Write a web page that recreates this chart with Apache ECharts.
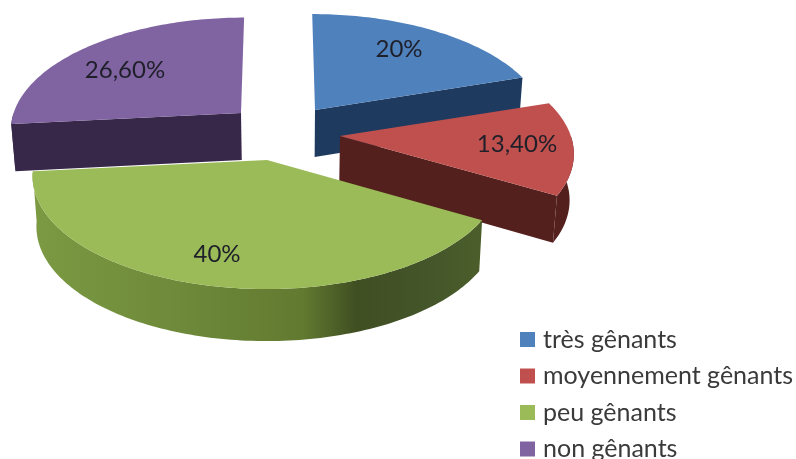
<!DOCTYPE html>
<html><head><meta charset="utf-8">
<style>html,body{margin:0;padding:0;background:#fff}#c{width:796px;height:459px}</style>
<script src="https://cdn.jsdelivr.net/npm/echarts@6/dist/echarts.min.js"></script>
</head><body><div id="c"></div>
<script>
// Data
const categories = ['très gênants', 'moyennement gênants', 'peu gênants', 'non gênants'];
const values = [20, 13.4, 40, 26.6];
const valueLabels = ['20%', '13,40%', '40%', '26,60%'];

// Styles & layout
const topColors = ['#4f81bd', '#c0504d', '#9bbb59', '#8064a2'];
const wallColors = ['#1f3a5f', '#54201e', null, '#37284a'];
const apexes = [[315, 110], [340, 136], [267, 160], [241, 113]];
const depths = [47, 46, 50, 47];
const radiusScale = [0.985, 0.995, 1, 0.98];
const labelPos = [[399, 49], [517, 144], [217, 254], [125, 70]];
const RX = 232, RY = 111, K = 0.14, SHRINK = 0.985, MIDX = 290, VANISH_X = 280, VANISH = 0.08;

const chart = echarts.init(document.getElementById('c'), null, {renderer: 'canvas'});
const total = values.reduce((a, b) => a + b, 0);
const angles = []; let acc = 0;
values.forEach(v => { angles.push([acc / total * 2 * Math.PI, (acc + v) / total * 2 * Math.PI]); acc += v; });

function topPt(i, t, r) {
  const u = r * Math.sin(t), v = r * Math.cos(t), s = radiusScale[i] / (1 + K * v);
  const ax = apexes[i][0];
  return [ax - (ax - VANISH_X) * VANISH * v + RX * u * s, apexes[i][1] - RY * v * s];
}
function bottomPt(i, t, r) {
  const p = topPt(i, t, r), v = r * Math.cos(t);
  return [MIDX + (p[0] - MIDX) * SHRINK, p[1] + depths[i] * (1 - 0.04 * v)];
}
function arc(fn, i, a, b) {
  const n = Math.max(2, Math.ceil(Math.abs(b - a) / 0.02)), out = [];
  for (let k = 0; k <= n; k++) out.push(fn(i, a + (b - a) * k / n, 1));
  return out;
}
const greenWall = new echarts.graphic.LinearGradient(0, 0, 1, 0, [
  {offset: 0, color: '#7b9a42'}, {offset: 0.3, color: '#6f8b3b'}, {offset: 0.6, color: '#627a30'},
  {offset: 0.72, color: '#404f22'}, {offset: 0.87, color: '#44552a'}, {offset: 1, color: '#4b5e2a'}
]);
function renderSlice(i) {
  return function () {
    const [a, b] = angles[i], children = [];
    const fill = wallColors[i] || greenWall;
    const wall = pts => children.push({type: 'polygon', shape: {points: pts}, style: {fill: fill}});
    [[a, Math.sin(a) < -1e-6], [b, Math.sin(b) > 1e-6]].forEach(([t, vis]) => {
      if (vis) wall([topPt(i, t, 0), topPt(i, t, 1), bottomPt(i, t, 1), bottomPt(i, t, 0)]);
    });
    const fa = Math.max(a, Math.PI / 2), fb = Math.min(b, 3 * Math.PI / 2);
    if (fb > fa) wall(arc(topPt, i, fa, fb).concat(arc(bottomPt, i, fb, fa)));
    children.push({type: 'polygon', shape: {points: [topPt(i, a, 0)].concat(arc(topPt, i, a, b))}, style: {fill: topColors[i]}});
    children.push({type: 'text', style: {
      text: valueLabels[i], x: labelPos[i][0], y: labelPos[i][1], align: 'center', verticalAlign: 'middle',
      font: '24px Lato', fill: '#1f1f2a'
    }});
    return {type: 'group', children};
  };
}
chart.setOption({
  animation: false,
  backgroundColor: '#ffffff',
  legend: {
    orient: 'vertical', left: 515, top: 322, height: 200, itemWidth: 15, itemHeight: 15, itemGap: 11.5,
    selectedMode: false, icon: 'rect', data: categories,
    textStyle: {fontFamily: 'Lato', fontSize: 25, color: '#3a3a3a', padding: [0, 0, 0, 3], lineHeight: 22}
  },
  series: categories.map((name, i) => ({
    type: 'custom', name, coordinateSystem: 'none', silent: true,
    itemStyle: {color: topColors[i]},
    data: [values[i]], renderItem: renderSlice(i)
  }))
});
</script></body></html>
